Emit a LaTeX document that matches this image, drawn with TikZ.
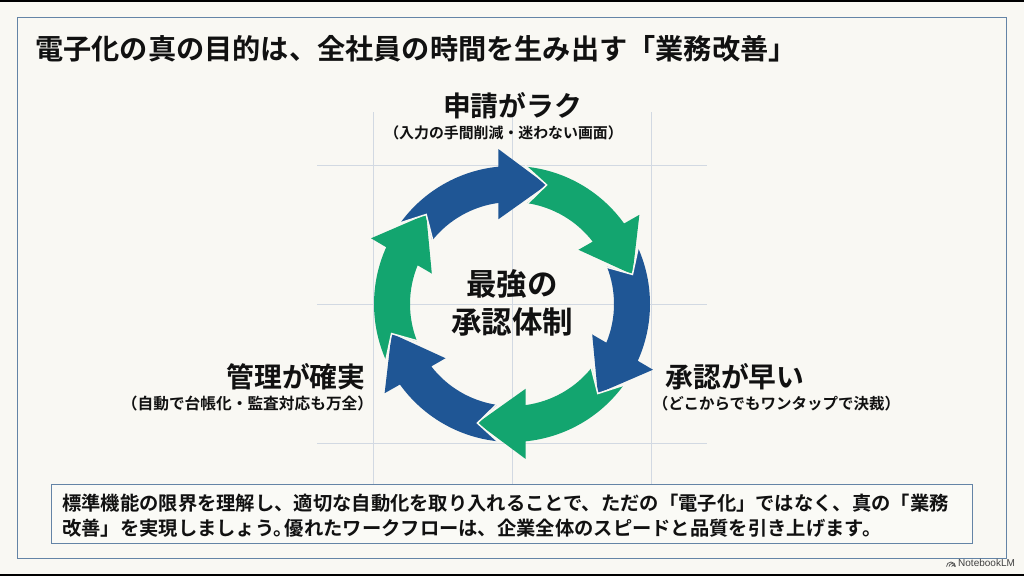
\documentclass[tikz,border=0pt]{standalone}
\usepackage{fontspec}
\setmainfont{Noto Sans CJK JP}[BoldFont=* Bold]
\newfontfamily\latinsans{Liberation Sans}
\definecolor{pagebg}{HTML}{F9F8F3}
\definecolor{notebg}{HTML}{FAFAF6}
\definecolor{framecol}{HTML}{6484A6}
\definecolor{gridcol}{HTML}{D2D9E2}
\definecolor{cycblue}{HTML}{1F5695}
\definecolor{cycgreen}{HTML}{13A56F}
\definecolor{inkcol}{HTML}{111111}
\tikzset{
  gridline/.style={gridcol,line width=1pt},
  framebox/.style={draw=framecol,line width=1pt},
  titletext/.style={font=\fontsize{28.2}{30}\selectfont\bfseries,text=inkcol,inner sep=0pt},
  headtext/.style={font=\fontsize{27.8}{30}\selectfont\bfseries,text=inkcol,inner sep=0pt},
  subtext/.style={font=\fontsize{#1}{17}\selectfont\bfseries,text=inkcol,inner sep=0pt},
  centertext/.style={font=\fontsize{30.5}{37.5}\selectfont\bfseries,text=inkcol,inner sep=0pt,align=center},
  notetext/.style={font=\fontsize{19.3}{25}\selectfont\bfseries,text=inkcol},
}
\begin{document}
\begin{tikzpicture}[x=1pt,y=1pt]
\useasboundingbox (0,0) rectangle (1024,-576);
\fill[pagebg] (0,0) rectangle (1024,-576);
\fill[black] (0,0) rectangle (1024,-2);
\fill[black] (0,-573.5) rectangle (1024,-576);
\draw[framebox] (17.5,-17) rectangle (1006.5,-558);
% grid
\foreach \gx in {373,512,651} \draw[gridline] (\gx,-112) -- (\gx,-484);
\foreach \gy in {165,304,443} \draw[gridline] (317,-\gy) -- (707,-\gy);
% cycle arrows
\foreach \r/\c in {0/cycblue,-60/cycgreen,-120/cycblue,-180/cycgreen,-240/cycblue,-300/cycgreen}{
  \begin{scope}[shift={(512,-304)},rotate=\r]
    \fill[\c] (143.8:138) arc[start angle=143.8,end angle=95.7,radius=138]
      -- (95:155.5) -- (73.8:124) -- (99.2:85.8) -- (97.7:102)
      arc[start angle=97.7,end angle=141.5,radius=102]
      -- (133.8:124) -- cycle;
  \end{scope}
}
\foreach \r in {0,-60,-120,-180,-240,-300}{
  \begin{scope}[shift={(512,-304)},rotate=\r]
    \draw[pagebg,line width=1.5pt,line join=miter] (84.5:139) -- (73.8:124) -- (81.5:101);
  \end{scope}
}
% texts
\node[titletext,anchor=west] (title) at (35,-49) {電子化の真の目的は、全社員の時間を生み出す「業務改善」};
\node[headtext] (h1) at (512.5,-106) {申請がラク};
\node[subtext=14.9] (s1) at (503.5,-133) {（入力の手間削減・迷わない画面）};
\node[headtext] (h2) at (735,-377) {承認が早い};
\node[subtext=15.5] (s2) at (776.5,-404) {（どこからでもワンタップで決裁）};
\node[headtext] (h3) at (296,-377) {管理が確実};
\node[subtext=15.7] (s3) at (247.5,-404) {（自動で台帳化・監査対応も万全）};
\node[centertext] (core) at (512,-303) {最強の\\承認体制};
% note
\node[framebox,fill=notebg,minimum width=921pt,minimum height=59pt,inner sep=0pt] (notebox) at (512,-513.5) {};
\node[notetext,anchor=west,inner sep=0pt,align=left] (note) at (62,-515.5) {標準機能の限界を理解し、適切な自動化を取り入れることで、ただの「電子化」ではなく、真の「業務\\改善」を実現しましょう。\kern-0.4em 優れたワークフローは、企業全体のスピードと品質を引き上げます。};
% brand
\node[anchor=west,inner sep=0pt,font=\latinsans\fontsize{10}{12}\selectfont,text=black!75] (brand) at (958,-563) {NotebookLM};
\draw[black!70,line width=0.7pt] (946.5,-566.5) arc[start angle=180,end angle=0,radius=4.5];
\draw[black!70,line width=0.7pt] (949,-566.5) arc[start angle=180,end angle=0,radius=3];
\draw[black!70,line width=0.7pt] (951.5,-566.5) arc[start angle=180,end angle=0,radius=1.5];
\end{tikzpicture}
\end{document}
